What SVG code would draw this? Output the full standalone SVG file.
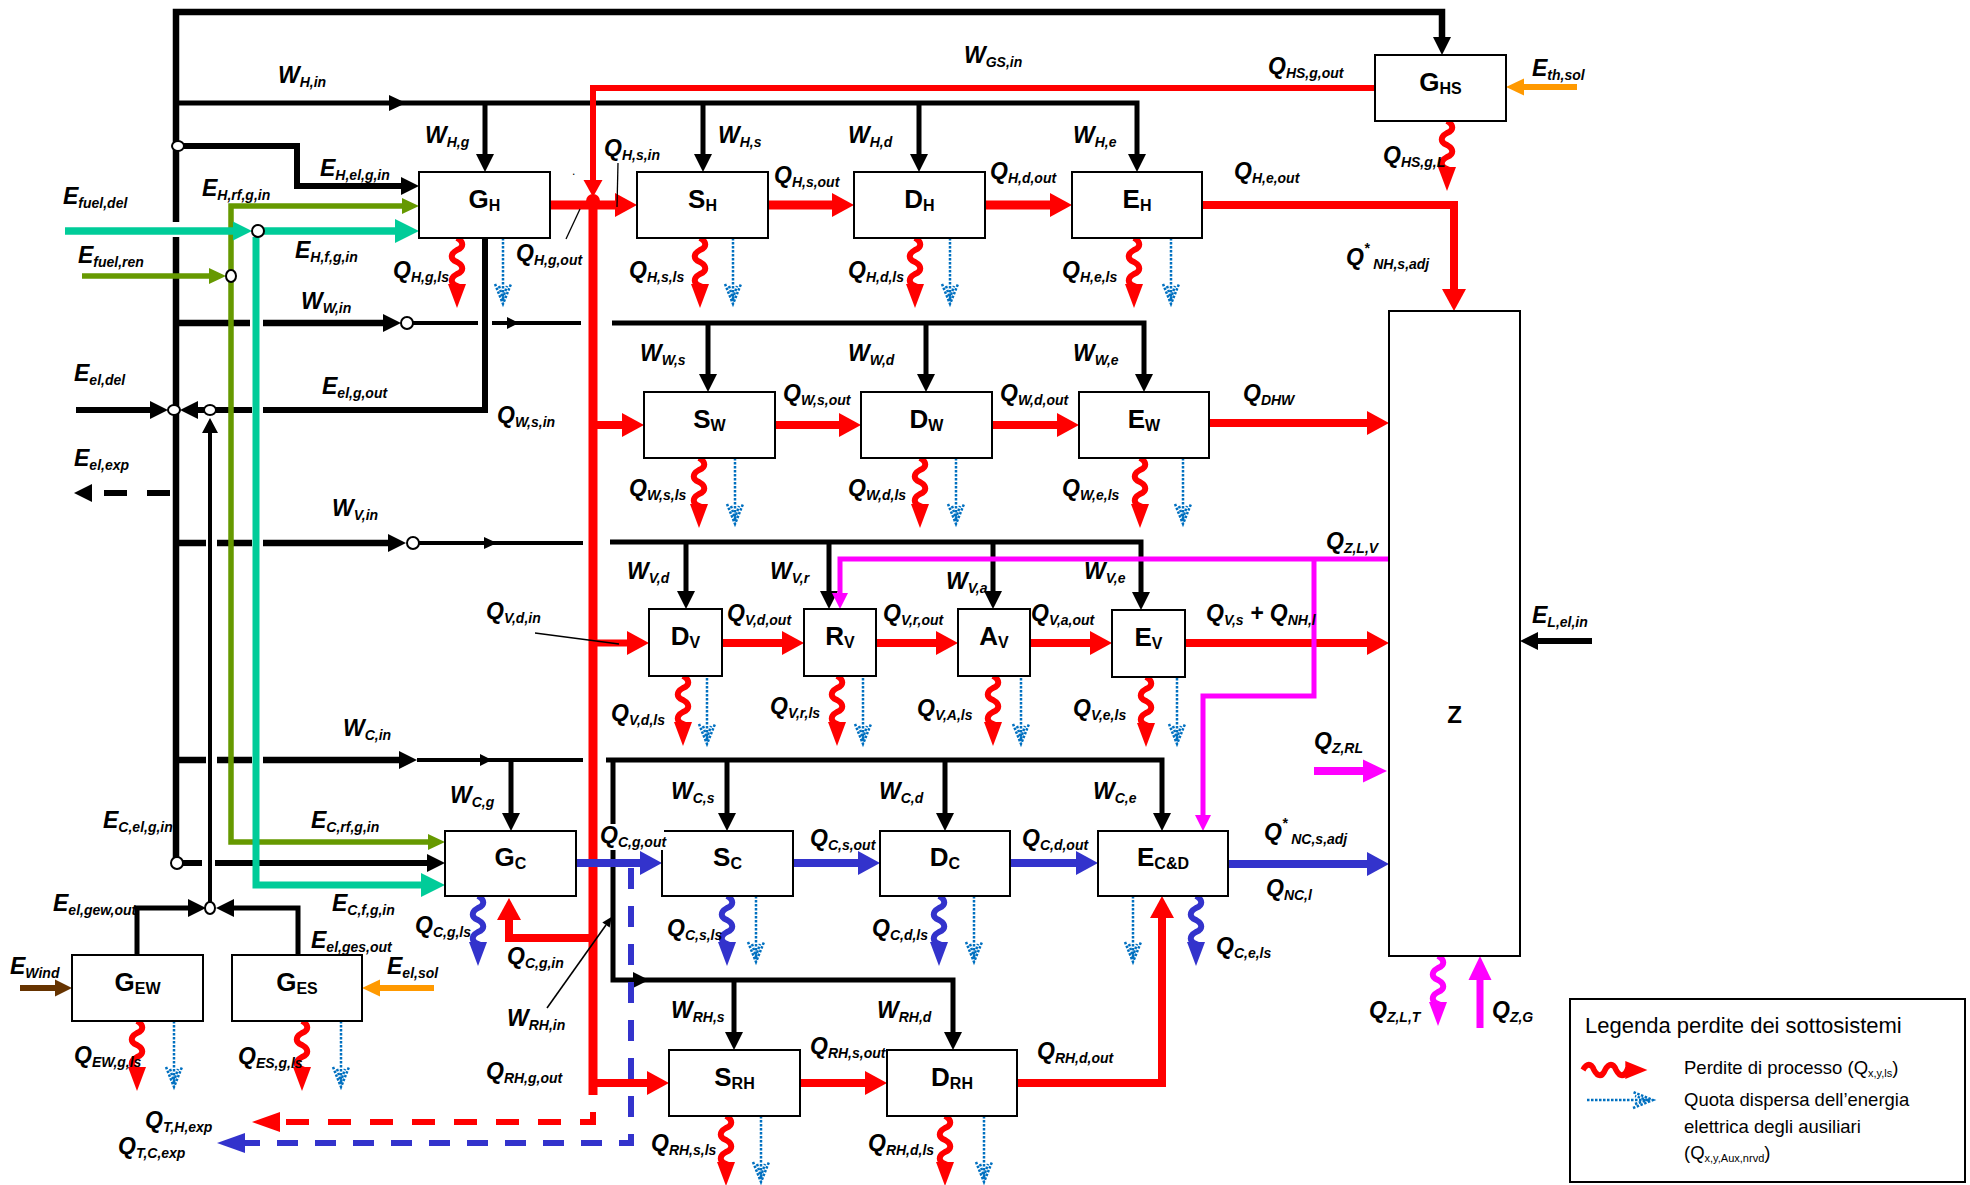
<svg xmlns="http://www.w3.org/2000/svg" xmlns:xlink="http://www.w3.org/1999/xlink" width="1970" height="1185" viewBox="0 0 1970 1185">
<style>
.k{fill:none;stroke:#000;stroke-width:5}
.kt{stroke-width:6.5}
.kn{stroke-width:4}
.r{fill:none;stroke:#f00;stroke-width:9}
.r6{stroke-width:6}
.bl{fill:none;stroke:#3333cc;stroke-width:8}
.m{fill:none;stroke:#f0f;stroke-width:5}
.m8{stroke-width:8}
.t{fill:none;stroke:#00cc99;stroke-width:7.5}
.g{fill:none;stroke:#669900;stroke-width:5.5}
.o{fill:none;stroke:#ff9900;stroke-width:6}
.br{fill:none;stroke:#663300;stroke-width:6}
.box{fill:#fff;stroke:#000;stroke-width:2}
.cir{fill:#fff;stroke:#000;stroke-width:2}
.lead{fill:none;stroke:#000;stroke-width:1.3}
text{font-family:"Liberation Sans",Arial,sans-serif}
text.l{font-weight:bold;font-style:italic;font-size:23px}
.s{font-size:14px}
text.b{font-weight:bold;font-size:26px;text-anchor:middle}
.bs{font-size:16px}
text.lg{font-size:22px}
text.lt{font-size:18.5px}
.ls{font-size:11px}
</style>
<defs>
<marker id="aK" markerUnits="userSpaceOnUse" markerWidth="18" markerHeight="18" refX="0" refY="9" orient="auto" style="overflow:visible"><path d="M0,0 L18,9 L0,18z" fill="#000"/></marker>
<marker id="aK2" markerUnits="userSpaceOnUse" markerWidth="15" markerHeight="16" refX="0" refY="8" orient="auto" style="overflow:visible"><path d="M0,0 L15,8 L0,16z" fill="#000"/></marker>
<marker id="aKs" markerUnits="userSpaceOnUse" markerWidth="10" markerHeight="9" refX="0" refY="4.5" orient="auto" style="overflow:visible"><path d="M0,0 L10,4.5 L0,9z" fill="#000"/></marker>
<marker id="aR" markerUnits="userSpaceOnUse" markerWidth="22" markerHeight="24" refX="0" refY="12" orient="auto" style="overflow:visible"><path d="M0,0 L22,12 L0,24z" fill="#f00"/></marker>
<marker id="aRs" markerUnits="userSpaceOnUse" markerWidth="17" markerHeight="19" refX="0" refY="9.5" orient="auto" style="overflow:visible"><path d="M0,0 L17,9.5 L0,19z" fill="#f00"/></marker>
<marker id="aRd" markerUnits="userSpaceOnUse" markerWidth="28" markerHeight="20" refX="0" refY="10" orient="auto" style="overflow:visible"><path d="M0,0 L28,10 L0,20z" fill="#f00"/></marker>
<marker id="aB" markerUnits="userSpaceOnUse" markerWidth="22" markerHeight="24" refX="0" refY="12" orient="auto" style="overflow:visible"><path d="M0,0 L22,12 L0,24z" fill="#3333cc"/></marker>
<marker id="aBd" markerUnits="userSpaceOnUse" markerWidth="28" markerHeight="20" refX="0" refY="10" orient="auto" style="overflow:visible"><path d="M0,0 L28,10 L0,20z" fill="#3333cc"/></marker>
<marker id="aM" markerUnits="userSpaceOnUse" markerWidth="16" markerHeight="16" refX="0" refY="8" orient="auto" style="overflow:visible"><path d="M0,0 L16,8 L0,16z" fill="#f0f"/></marker>
<marker id="aM2" markerUnits="userSpaceOnUse" markerWidth="24" markerHeight="23" refX="0" refY="11.5" orient="auto" style="overflow:visible"><path d="M0,0 L24,11.5 L0,23z" fill="#f0f"/></marker>
<marker id="aO" markerUnits="userSpaceOnUse" markerWidth="18" markerHeight="17" refX="0" refY="8.5" orient="auto" style="overflow:visible"><path d="M0,0 L18,8.5 L0,17z" fill="#ff9900"/></marker>
<marker id="aG" markerUnits="userSpaceOnUse" markerWidth="17" markerHeight="16" refX="0" refY="8" orient="auto" style="overflow:visible"><path d="M0,0 L17,8 L0,16z" fill="#669900"/></marker>
<marker id="aT" markerUnits="userSpaceOnUse" markerWidth="24" markerHeight="24" refX="0" refY="12" orient="auto" style="overflow:visible"><path d="M0,0 L24,12 L0,24z" fill="#00cc99"/></marker>
<marker id="aT2" markerUnits="userSpaceOnUse" markerWidth="19" markerHeight="19" refX="0" refY="9.5" orient="auto" style="overflow:visible"><path d="M0,0 L19,9.5 L0,19z" fill="#00cc99"/></marker>
<marker id="aW" markerUnits="userSpaceOnUse" markerWidth="17" markerHeight="17" refX="0" refY="8.5" orient="auto" style="overflow:visible"><path d="M0,0 L17,8.5 L0,17z" fill="#663300"/></marker>
<g id="wv"><path fill="none" stroke-width="6" d="M0,0 c7,4 7,9 0,12 c-7,4 -7,9 0,12 c7,4 7,9 0,12 c-7,4 -7,9 0,12 v2"/><path stroke="none" d="M-9,46 L9,46 L0,70z"/></g>
<g id="dt" fill="none" stroke="#0070c0" stroke-width="2.5" stroke-dasharray="2.5,1.5"><path d="M0,0 V64"/><path d="M-8,46 L0,66 L8,46"/><path d="M-4,48 L0,60 L4,48"/></g>
</defs>
<rect width="1970" height="1185" fill="#fff"/>

<g id="connectors">
<path class="k kt" d="M176,222 V12 H1442 V37" marker-end="url(#aK)"/>
<path class="k kt" d="M176,237 V858"/>
<path class="k" d="M176,103 H1137 V154" marker-end="url(#aK)"/>
<polygon points="389,95 406,103 389,111"/>
<path class="k" d="M485,103 V154" marker-end="url(#aK)"/>
<path class="k" d="M703,103 V154" marker-end="url(#aK)"/>
<path class="k" d="M919,103 V154" marker-end="url(#aK)"/>
<path class="k" style="stroke-width:6" d="M184,146 H297 V186 H401" marker-end="url(#aK)"/>
<path class="k kt" d="M176,323 H250"/>
<path class="k kt" d="M263,323 H383" marker-end="url(#aK)"/>
<path class="k kn" d="M413,323 H478 M492,323 H581"/>
<polygon points="507,317 519,323 507,329"/>
<path class="k" d="M612,323 H1144 V374" marker-end="url(#aK)"/>
<path class="k" d="M708,323 V374" marker-end="url(#aK)"/>
<path class="k" d="M926,323 V374" marker-end="url(#aK)"/>
<path class="k" style="stroke-width:6" d="M485,238 V410 H263 M252,410 H216"/>
<path class="k" style="stroke-width:6" d="M204,410 H198" marker-end="url(#aK)"/>
<path class="k" style="stroke-width:6" d="M76,410 H150" marker-end="url(#aK)"/>
<path class="k" style="stroke-width:6" stroke-dasharray="23,20" d="M170,493 H92" marker-end="url(#aK)"/>
<path class="k kt" d="M176,543 H206 M217,543 H252"/>
<path class="k kt" d="M263,543 H388" marker-end="url(#aK)"/>
<path class="k kn" d="M419,543 H583"/>
<polygon points="484,537 497,543 484,549"/>
<path class="k" d="M610,542 H1141 V592" marker-end="url(#aK)"/>
<path class="k" d="M686,542 V591" marker-end="url(#aK)"/>
<path class="k" d="M829,542 V591" marker-end="url(#aK)"/>
<path class="k" d="M993,542 V591" marker-end="url(#aK)"/>
<path class="k kt" d="M176,760 H206 M217,760 H252"/>
<path class="k kt" d="M263,760 H399" marker-end="url(#aK)"/>
<path class="k kn" d="M417,760 H583"/>
<polygon points="480,754 492,760 480,766"/>
<path class="k" d="M511,760 V813" marker-end="url(#aK)"/>
<path class="k" d="M606,760 H1162 V813" marker-end="url(#aK)"/>
<path class="k" d="M727,760 V813" marker-end="url(#aK)"/>
<path class="k" d="M945,760 V813" marker-end="url(#aK)"/>
<path class="k" d="M613,760 V980 H953 V1032" marker-end="url(#aK)"/>
<polygon points="633,972 649,980 633,988"/>
<path class="k" d="M734,980 V1032" marker-end="url(#aK)"/>
<path class="k" style="stroke-width:6" d="M183,863 H202"/>
<path class="k" style="stroke-width:6" d="M215,863 H427" marker-end="url(#aK)"/>
<path class="k kn" d="M210,903 V433" marker-end="url(#aK2)"/>
<path class="k" d="M137,955 V908 H188" marker-end="url(#aK)"/>
<path class="k" d="M298,955 V908 H234" marker-end="url(#aK)"/>
<path class="k" style="stroke-width:6" d="M1592,641 H1538" marker-end="url(#aK)"/>
<path class="g" d="M231,524 V206 H402" marker-end="url(#aG)"/>
<path class="g" d="M231,524 V842 H428" marker-end="url(#aG)"/>
<path class="g" d="M82,276 H209" marker-end="url(#aG)"/>
<path class="t" d="M65,231 H233" marker-end="url(#aT2)"/>
<path class="t" d="M264,231 H395" marker-end="url(#aT)"/>
<path class="t" style="stroke-width:7" d="M256,237 V885 H421" marker-end="url(#aT)"/>
<path class="r r6" d="M1375,88 H593 V180" marker-end="url(#aRs)"/>
<path class="r" d="M593,201 V1095"/>
<path class="r" d="M550,205 H615" marker-end="url(#aR)"/>
<path class="r" d="M768,205 H832" marker-end="url(#aR)"/>
<path class="r" d="M985,205 H1050" marker-end="url(#aR)"/>
<path class="r" style="stroke-width:8" d="M1202,205 H1454 V289" marker-end="url(#aR)"/>
<path class="r" style="stroke-width:8" d="M593,425 H622" marker-end="url(#aR)"/>
<path class="r" style="stroke-width:8" d="M775,425 H839" marker-end="url(#aR)"/>
<path class="r" style="stroke-width:8" d="M992,425 H1057" marker-end="url(#aR)"/>
<path class="r" style="stroke-width:8" d="M1209,423 H1367" marker-end="url(#aR)"/>
<path class="r" style="stroke-width:7" d="M593,643 H627" marker-end="url(#aR)"/>
<path class="r" style="stroke-width:8" d="M722,643 H782" marker-end="url(#aR)"/>
<path class="r" style="stroke-width:8" d="M876,643 H936" marker-end="url(#aR)"/>
<path class="r" style="stroke-width:8" d="M1030,643 H1090" marker-end="url(#aR)"/>
<path class="r" style="stroke-width:8" d="M1185,643 H1367" marker-end="url(#aR)"/>
<path class="r" style="stroke-width:8" d="M593,938 H509 V920" marker-end="url(#aR)"/>
<path class="r" style="stroke-width:8" d="M593,1083 H647" marker-end="url(#aR)"/>
<path class="r" style="stroke-width:8" d="M800,1083 H865" marker-end="url(#aR)"/>
<path class="r" style="stroke-width:8" d="M1017,1083 H1162 V918" marker-end="url(#aR)"/>
<path class="r r6" stroke-dasharray="23,19" d="M593,1112 V1122 H280" marker-end="url(#aRd)"/>
<circle cx="593" cy="201" r="7" fill="#f00"/>
<path class="bl" d="M576,863 H640" marker-end="url(#aB)"/>
<path class="bl" d="M793,863 H858" marker-end="url(#aB)"/>
<path class="bl" d="M1010,863 H1076" marker-end="url(#aB)"/>
<path class="bl" d="M1228,864 H1367" marker-end="url(#aB)"/>
<path class="bl" style="stroke-width:6" stroke-dasharray="21,17" d="M631,868 V1143 H245" marker-end="url(#aBd)"/>
<path class="m" d="M1389,559 H840 V593" marker-end="url(#aM)"/>
<path class="m" d="M1314,559 V696 H1203 V815" marker-end="url(#aM)"/>
<path class="m m8" d="M1314,771 H1363" marker-end="url(#aM2)"/>
<path class="m" style="stroke-width:7" d="M1480,1028 V980" marker-end="url(#aM2)"/>
<path class="o" d="M1577,87 H1524" marker-end="url(#aO)"/>
<path class="o" d="M434,988 H380" marker-end="url(#aO)"/>
<path class="br" d="M20,988 H55" marker-end="url(#aW)"/>
<path class="lead" d="M618,163 L617,207"/>
<path class="lead" d="M566,239 L580,209"/>
<path class="lead" d="M535,633 L619,644"/>
<path class="lead" style="stroke-width:1.6" d="M547,1008 L606,925" marker-end="url(#aKs)"/>
<ellipse class="cir" cx="178" cy="146" rx="6" ry="5"/>
<ellipse class="cir" cx="174" cy="410" rx="6" ry="5"/>
<ellipse class="cir" cx="210" cy="410" rx="6" ry="5"/>
<ellipse class="cir" cx="231" cy="276" rx="5" ry="6"/>
<ellipse class="cir" cx="258" cy="231" rx="6" ry="6"/>
<ellipse class="cir" cx="407" cy="323" rx="6" ry="6"/>
<ellipse class="cir" cx="413" cy="543" rx="6" ry="6"/>
<ellipse class="cir" cx="177" cy="863" rx="6" ry="6"/>
<ellipse class="cir" cx="210" cy="908" rx="5" ry="6"/>
<g fill="#f00" stroke="#f00">
<use xlink:href="#wv" x="457" y="238"/><use xlink:href="#wv" x="700" y="238"/><use xlink:href="#wv" x="915" y="238"/><use xlink:href="#wv" x="1134" y="238"/>
<use xlink:href="#wv" x="1447" y="121"/>
<use xlink:href="#wv" x="699" y="458"/><use xlink:href="#wv" x="920" y="458"/><use xlink:href="#wv" x="1140" y="458"/>
<use xlink:href="#wv" x="683" y="676"/><use xlink:href="#wv" x="837" y="676"/><use xlink:href="#wv" x="993" y="676"/><use xlink:href="#wv" x="1146" y="677"/>
<use xlink:href="#wv" x="726" y="1116"/><use xlink:href="#wv" x="945" y="1116"/>
<use xlink:href="#wv" x="137" y="1021"/><use xlink:href="#wv" x="302" y="1021"/>
</g>
<g fill="#3333cc" stroke="#3333cc">
<use xlink:href="#wv" x="478" y="896"/><use xlink:href="#wv" x="727" y="896"/><use xlink:href="#wv" x="939" y="896"/><use xlink:href="#wv" x="1196" y="896"/>
</g>
<g fill="#f0f" stroke="#f0f"><use xlink:href="#wv" x="1438" y="956"/></g>
<use xlink:href="#dt" x="503" y="238"/><use xlink:href="#dt" x="733" y="238"/><use xlink:href="#dt" x="950" y="238"/><use xlink:href="#dt" x="1171" y="238"/>
<use xlink:href="#dt" x="735" y="458"/><use xlink:href="#dt" x="956" y="458"/><use xlink:href="#dt" x="1183" y="458"/>
<use xlink:href="#dt" x="707" y="678"/><use xlink:href="#dt" x="863" y="678"/><use xlink:href="#dt" x="1021" y="678"/><use xlink:href="#dt" x="1177" y="678"/>
<use xlink:href="#dt" x="756" y="896"/><use xlink:href="#dt" x="974" y="896"/><use xlink:href="#dt" x="1133" y="896"/>
<use xlink:href="#dt" x="761" y="1116"/><use xlink:href="#dt" x="984" y="1116"/>
<use xlink:href="#dt" x="174" y="1021"/><use xlink:href="#dt" x="341" y="1021"/>
</g>

<g id="GH"><rect class="box" x="419" y="172" width="131" height="66"/><text class="b" x="484.5" y="208">G<tspan class="bs" dy="3">H</tspan></text></g>
<g id="SH"><rect class="box" x="637" y="172" width="131" height="66"/><text class="b" x="702.5" y="208">S<tspan class="bs" dy="3">H</tspan></text></g>
<g id="DH"><rect class="box" x="854" y="172" width="131" height="66"/><text class="b" x="919.5" y="208">D<tspan class="bs" dy="3">H</tspan></text></g>
<g id="EH"><rect class="box" x="1072" y="172" width="130" height="66"/><text class="b" x="1137" y="208">E<tspan class="bs" dy="3">H</tspan></text></g>
<g id="GHS"><rect class="box" x="1375" y="55" width="131" height="66"/><text class="b" x="1440.5" y="91">G<tspan class="bs" dy="3">HS</tspan></text></g>
<g id="SW"><rect class="box" x="644" y="392" width="131" height="66"/><text class="b" x="709.5" y="428">S<tspan class="bs" dy="3">W</tspan></text></g>
<g id="DW"><rect class="box" x="861" y="392" width="131" height="66"/><text class="b" x="926.5" y="428">D<tspan class="bs" dy="3">W</tspan></text></g>
<g id="EW"><rect class="box" x="1079" y="392" width="130" height="66"/><text class="b" x="1144" y="428">E<tspan class="bs" dy="3">W</tspan></text></g>
<g id="DV"><rect class="box" x="649" y="609" width="73" height="67"/><text class="b" x="685.5" y="645">D<tspan class="bs" dy="3">V</tspan></text></g>
<g id="RV"><rect class="box" x="804" y="609" width="72" height="67"/><text class="b" x="840" y="645">R<tspan class="bs" dy="3">V</tspan></text></g>
<g id="AV"><rect class="box" x="958" y="609" width="72" height="67"/><text class="b" x="994" y="645">A<tspan class="bs" dy="3">V</tspan></text></g>
<g id="EV"><rect class="box" x="1112" y="610" width="73" height="67"/><text class="b" x="1148.5" y="646">E<tspan class="bs" dy="3">V</tspan></text></g>
<g id="GC"><rect class="box" x="445" y="831" width="131" height="65"/><text class="b" x="510.5" y="866">G<tspan class="bs" dy="3">C</tspan></text></g>
<g id="SC"><rect class="box" x="662" y="831" width="131" height="65"/><text class="b" x="727.5" y="866">S<tspan class="bs" dy="3">C</tspan></text></g>
<g id="DC"><rect class="box" x="880" y="831" width="130" height="65"/><text class="b" x="945" y="866">D<tspan class="bs" dy="3">C</tspan></text></g>
<g id="ECD"><rect class="box" x="1098" y="831" width="130" height="65"/><text class="b" x="1163" y="866">E<tspan class="bs" dy="3">C&amp;D</tspan></text></g>
<g id="SRH"><rect class="box" x="669" y="1050" width="131" height="66"/><text class="b" x="734.5" y="1086">S<tspan class="bs" dy="3">RH</tspan></text></g>
<g id="DRH"><rect class="box" x="887" y="1050" width="130" height="66"/><text class="b" x="952" y="1086">D<tspan class="bs" dy="3">RH</tspan></text></g>
<g id="GEW"><rect class="box" x="72" y="955" width="131" height="66"/><text class="b" x="137.5" y="991">G<tspan class="bs" dy="3">EW</tspan></text></g>
<g id="GES"><rect class="box" x="232" y="955" width="130" height="66"/><text class="b" x="297" y="991">G<tspan class="bs" dy="3">ES</tspan></text></g>
<g id="Z"><rect class="box" x="1389" y="311" width="131" height="645"/><text class="b" style="font-size:24px" x="1454.5" y="723">Z</text></g>

<g id="labels">
<rect x="598" y="824" width="66" height="26" fill="#fff"/>
<text class="l" x="278" y="83">W<tspan class="s" dy="4">H,in</tspan></text>
<text class="l" x="964" y="63">W<tspan class="s" dy="4">GS,in</tspan></text>
<text class="l" x="1268" y="74">Q<tspan class="s" dy="4">HS,g,out</tspan></text>
<text class="l" x="1532" y="76">E<tspan class="s" dy="4">th,sol</tspan></text>
<text class="l" x="425" y="143">W<tspan class="s" dy="4">H,g</tspan></text>
<text class="l" x="718" y="143">W<tspan class="s" dy="4">H,s</tspan></text>
<text class="l" x="848" y="143">W<tspan class="s" dy="4">H,d</tspan></text>
<text class="l" x="1073" y="143">W<tspan class="s" dy="4">H,e</tspan></text>
<text class="l" x="320" y="176">E<tspan class="s" dy="4">H,el,g,in</tspan></text>
<text class="l" x="604" y="156">Q<tspan class="s" dy="4">H,s,in</tspan></text>
<text x="572" y="175" style="font-size:12px">.</text>
<text class="l" x="774" y="183">Q<tspan class="s" dy="4">H,s,out</tspan></text>
<text class="l" x="990" y="179">Q<tspan class="s" dy="4">H,d,out</tspan></text>
<text class="l" x="1234" y="179">Q<tspan class="s" dy="4">H,e,out</tspan></text>
<text class="l" x="1383" y="163">Q<tspan class="s" dy="4">HS,g,L</tspan></text>
<text class="l" x="202" y="196">E<tspan class="s" dy="4">H,rf,g,in</tspan></text>
<text class="l" x="63" y="204">E<tspan class="s" dy="4">fuel,del</tspan></text>
<text class="l" x="295" y="258">E<tspan class="s" dy="4">H,f,g,in</tspan></text>
<text class="l" x="78" y="263">E<tspan class="s" dy="4">fuel,ren</tspan></text>
<text class="l" x="393" y="278">Q<tspan class="s" dy="4">H,g,ls</tspan></text>
<text class="l" x="516" y="261">Q<tspan class="s" dy="4">H,g,out</tspan></text>
<text class="l" x="629" y="278">Q<tspan class="s" dy="4">H,s,ls</tspan></text>
<text class="l" x="848" y="278">Q<tspan class="s" dy="4">H,d,ls</tspan></text>
<text class="l" x="1062" y="278">Q<tspan class="s" dy="4">H,e,ls</tspan></text>
<text class="l" x="1346" y="265">Q<tspan class="s" dy="-12">*</tspan><tspan class="s" dy="16"> NH,s,adj</tspan></text>
<text class="l" x="301" y="309">W<tspan class="s" dy="4">W,in</tspan></text>
<text class="l" x="640" y="361">W<tspan class="s" dy="4">W,s</tspan></text>
<text class="l" x="848" y="361">W<tspan class="s" dy="4">W,d</tspan></text>
<text class="l" x="1073" y="361">W<tspan class="s" dy="4">W,e</tspan></text>
<text class="l" x="74" y="381">E<tspan class="s" dy="4">el,del</tspan></text>
<text class="l" x="322" y="394">E<tspan class="s" dy="4">el,g,out</tspan></text>
<text class="l" x="783" y="401">Q<tspan class="s" dy="4">W,s,out</tspan></text>
<text class="l" x="1000" y="401">Q<tspan class="s" dy="4">W,d,out</tspan></text>
<text class="l" x="1243" y="401">Q<tspan class="s" dy="4">DHW</tspan></text>
<text class="l" x="497" y="423">Q<tspan class="s" dy="4">W,s,in</tspan></text>
<text class="l" x="74" y="466">E<tspan class="s" dy="4">el,exp</tspan></text>
<text class="l" x="629" y="496">Q<tspan class="s" dy="4">W,s,ls</tspan></text>
<text class="l" x="848" y="496">Q<tspan class="s" dy="4">W,d,ls</tspan></text>
<text class="l" x="1062" y="496">Q<tspan class="s" dy="4">W,e,ls</tspan></text>
<text class="l" x="332" y="516">W<tspan class="s" dy="4">V,in</tspan></text>
<text class="l" x="1326" y="549">Q<tspan class="s" dy="4">Z,L,V</tspan></text>
<text class="l" x="627" y="579">W<tspan class="s" dy="4">V,d</tspan></text>
<text class="l" x="770" y="579">W<tspan class="s" dy="4">V,r</tspan></text>
<text class="l" x="946" y="589">W<tspan class="s" dy="4">V,a</tspan></text>
<text class="l" x="1084" y="579">W<tspan class="s" dy="4">V,e</tspan></text>
<text class="l" x="486" y="619">Q<tspan class="s" dy="4">V,d,in</tspan></text>
<text class="l" x="727" y="621">Q<tspan class="s" dy="4">V,d,out</tspan></text>
<text class="l" x="883" y="621">Q<tspan class="s" dy="4">V,r,out</tspan></text>
<text class="l" x="1031" y="621">Q<tspan class="s" dy="4">V,a,out</tspan></text>
<text class="l" x="1206" y="621">Q<tspan class="s" dy="4">V,s</tspan><tspan dy="-4"> + Q</tspan><tspan class="s" dy="4">NH,l</tspan></text>
<text class="l" x="1532" y="623">E<tspan class="s" dy="4">L,el,in</tspan></text>
<text class="l" x="611" y="721">Q<tspan class="s" dy="4">V,d,ls</tspan></text>
<text class="l" x="770" y="714">Q<tspan class="s" dy="4">V,r,ls</tspan></text>
<text class="l" x="917" y="716">Q<tspan class="s" dy="4">V,A,ls</tspan></text>
<text class="l" x="1073" y="716">Q<tspan class="s" dy="4">V,e,ls</tspan></text>
<text class="l" x="343" y="736">W<tspan class="s" dy="4">C,in</tspan></text>
<text class="l" x="1314" y="749">Q<tspan class="s" dy="4">Z,RL</tspan></text>
<text class="l" x="450" y="803">W<tspan class="s" dy="4">C,g</tspan></text>
<text class="l" x="671" y="799">W<tspan class="s" dy="4">C,s</tspan></text>
<text class="l" x="879" y="799">W<tspan class="s" dy="4">C,d</tspan></text>
<text class="l" x="1093" y="799">W<tspan class="s" dy="4">C,e</tspan></text>
<text class="l" x="103" y="828">E<tspan class="s" dy="4">C,el,g,in</tspan></text>
<text class="l" x="311" y="828">E<tspan class="s" dy="4">C,rf,g,in</tspan></text>
<text class="l" x="600" y="843">Q<tspan class="s" dy="4">C,g,out</tspan></text>
<text class="l" x="810" y="846">Q<tspan class="s" dy="4">C,s,out</tspan></text>
<text class="l" x="1022" y="846">Q<tspan class="s" dy="4">C,d,out</tspan></text>
<text class="l" x="1264" y="840">Q<tspan class="s" dy="-12">*</tspan><tspan class="s" dy="16"> NC,s,adj</tspan></text>
<text class="l" x="1266" y="896">Q<tspan class="s" dy="4">NC,l</tspan></text>
<text class="l" x="53" y="911">E<tspan class="s" dy="4">el,gew,out</tspan></text>
<text class="l" x="332" y="911">E<tspan class="s" dy="4">C,f,g,in</tspan></text>
<text class="l" x="415" y="933">Q<tspan class="s" dy="4">C,g,ls</tspan></text>
<text class="l" x="667" y="936">Q<tspan class="s" dy="4">C,s,ls</tspan></text>
<text class="l" x="872" y="936">Q<tspan class="s" dy="4">C,d,ls</tspan></text>
<text class="l" x="1216" y="954">Q<tspan class="s" dy="4">C,e,ls</tspan></text>
<text class="l" x="311" y="948">E<tspan class="s" dy="4">el,ges,out</tspan></text>
<text class="l" x="507" y="964">Q<tspan class="s" dy="4">C,g,in</tspan></text>
<text class="l" x="10" y="974">E<tspan class="s" dy="4">Wind</tspan></text>
<text class="l" x="387" y="974">E<tspan class="s" dy="4">el,sol</tspan></text>
<text class="l" x="671" y="1018">W<tspan class="s" dy="4">RH,s</tspan></text>
<text class="l" x="877" y="1018">W<tspan class="s" dy="4">RH,d</tspan></text>
<text class="l" x="1369" y="1018">Q<tspan class="s" dy="4">Z,L,T</tspan></text>
<text class="l" x="1492" y="1018">Q<tspan class="s" dy="4">Z,G</tspan></text>
<text class="l" x="507" y="1026">W<tspan class="s" dy="4">RH,in</tspan></text>
<text class="l" x="810" y="1054">Q<tspan class="s" dy="4">RH,s,out</tspan></text>
<text class="l" x="1037" y="1059">Q<tspan class="s" dy="4">RH,d,out</tspan></text>
<text class="l" x="74" y="1063">Q<tspan class="s" dy="4">EW,g,ls</tspan></text>
<text class="l" x="238" y="1064">Q<tspan class="s" dy="4">ES,g,ls</tspan></text>
<text class="l" x="486" y="1079">Q<tspan class="s" dy="4">RH,g,out</tspan></text>
<text class="l" x="145" y="1128">Q<tspan class="s" dy="4">T,H,exp</tspan></text>
<text class="l" x="651" y="1151">Q<tspan class="s" dy="4">RH,s,ls</tspan></text>
<text class="l" x="868" y="1151">Q<tspan class="s" dy="4">RH,d,ls</tspan></text>
<text class="l" x="118" y="1154">Q<tspan class="s" dy="4">T,C,exp</tspan></text>
</g>

<g id="legend">
<rect class="box" x="1570" y="999" width="395" height="183"/>
<text class="lg" x="1585" y="1033">Legenda perdite dei sottosistemi</text>
<g fill="#f00" stroke="#f00"><use xlink:href="#wv" transform="translate(1583,1070) rotate(-90) scale(1,0.92)"/></g>
<use xlink:href="#dt" transform="translate(1587,1100) rotate(-90)"/>
<text class="lt" x="1684" y="1074">Perdite di processo (Q<tspan class="ls" dy="3">x,y,ls</tspan><tspan dy="-3">)</tspan></text>
<text class="lt" x="1684" y="1106">Quota dispersa dell’energia</text>
<text class="lt" x="1684" y="1133">elettrica degli ausiliari</text>
<text class="lt" x="1684" y="1159">(Q<tspan class="ls" dy="3">x,y,Aux,nrvd</tspan><tspan dy="-3">)</tspan></text>
</g>
</svg>
